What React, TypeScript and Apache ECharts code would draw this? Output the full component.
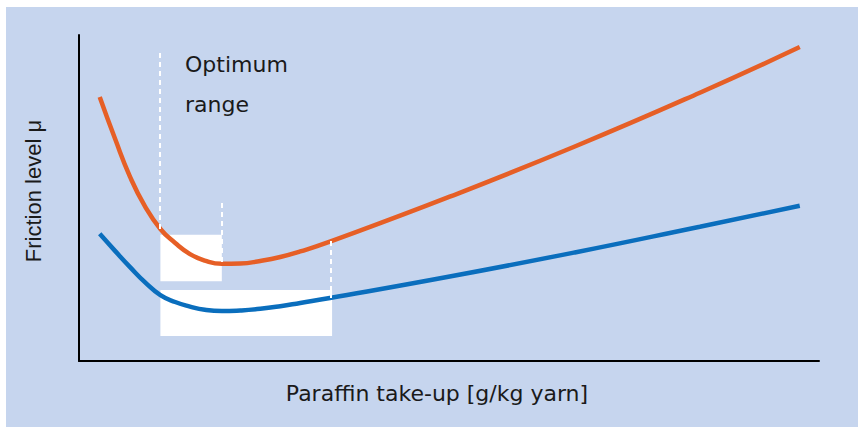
import React, { useEffect, useRef } from "react";
import * as echarts from "echarts";

// Paraffin take-up (relative units, 0-100 along the x axis)
const paraffin = [2.8, 4.9, 6.9, 8.9, 11.0, 13.0, 15.0, 17.0, 19.3, 21.8, 24.5, 27.2, 29.9, 33.9, 50.1, 67.0, 83.9, 97.4];
// Friction level (relative units) – orange curve (upper)
const frictionUpper = [81.0, 68.0, 56.5, 47.5, 40.5, 36.2, 32.8, 30.8, 29.8, 29.9, 30.7, 31.9, 33.6, 36.6, 50.4, 65.8, 82.3, 96.3];
// Friction level (relative units) – blue curve (lower)
const frictionLower = [39.0, 33.7, 28.8, 24.2, 20.2, 18.1, 16.7, 15.7, 15.3, 15.5, 16.0, 16.8, 17.8, 19.3, 25.9, 33.3, 41.2, 47.6];

// Optimum-range boxes: [xStart, yStart, xEnd, yEnd]
const optimumBoxes = [
  [11.0, 24.5, 19.3, 38.7],
  [11.0, 7.7, 34.2, 21.8],
];
// Dashed guide lines: [x, yFrom, yTo]
const guideLines = [
  [10.95, 94.5, 40.5],
  [19.3, 48.5, 29.8],
  [34.0, 36.8, 19.3],
];

const xTitle = "Paraffin take-up [g/kg yarn]";
const yTitle = "Friction level μ";
const noteLines = ["Optimum", "range"];

export default function App() {
  const ref = useRef<HTMLDivElement>(null);

  useEffect(() => {
    if (!ref.current) return;
    const chart = echarts.init(ref.current, undefined, { renderer: "svg" });
    const upper = paraffin.map((x, i) => [x, frictionUpper[i]]);
    const lower = paraffin.map((x, i) => [x, frictionLower[i]]);

    chart.setOption({
      animation: false,
      grid: { left: 79, top: 35, width: 740, height: 326, containLabel: false },
      xAxis: {
        type: "value",
        min: 0,
        max: 100,
        axisLine: { show: true, onZero: false, lineStyle: { color: "#000", width: 2 } },
        axisTick: { show: false },
        axisLabel: { show: false },
        splitLine: { show: false },
      },
      yAxis: {
        type: "value",
        min: 0,
        max: 100,
        axisLine: { show: true, onZero: false, lineStyle: { color: "#000", width: 2 } },
        axisTick: { show: false },
        axisLabel: { show: false },
        splitLine: { show: false },
      },
      graphic: [
        {
          type: "rect",
          z: -100,
          shape: { x: 6, y: 7, width: 852, height: 420 },
          style: { fill: "#c6d5ee" },
          silent: true,
        },
        {
          type: "text",
          x: 185,
          y: 64,
          style: {
            text: noteLines[0],
            font: "22px 'DejaVu Sans'",
            fill: "#1a1a1a",
            align: "left",
            verticalAlign: "middle",
          },
        },
        {
          type: "text",
          x: 185,
          y: 104,
          style: {
            text: noteLines[1],
            font: "22px 'DejaVu Sans'",
            fill: "#1a1a1a",
            align: "left",
            verticalAlign: "middle",
          },
        },
        {
          type: "text",
          x: 437,
          y: 393,
          style: {
            text: xTitle,
            font: "22px 'DejaVu Sans'",
            fill: "#1a1a1a",
            align: "center",
            verticalAlign: "middle",
          },
        },
        {
          type: "text",
          x: 33,
          y: 191,
          rotation: Math.PI / 2,
          style: {
            text: yTitle,
            font: "22px 'Liberation Sans'",
            fill: "#1a1a1a",
            align: "center",
            verticalAlign: "middle",
          },
        },
      ],
      series: [
        {
          type: "line",
          data: [[0, 0]],
          symbol: "none",
          lineStyle: { width: 0, opacity: 0 },
          silent: true,
          markArea: {
            silent: true,
            itemStyle: { color: "#ffffff", opacity: 1 },
            label: { show: false },
            data: optimumBoxes.map((b) => [{ coord: [b[0], b[1]] }, { coord: [b[2], b[3]] }]),
          },
          markLine: {
            silent: true,
            symbol: ["none", "none"],
            label: { show: false },
            lineStyle: { color: "#ffffff", width: 2, type: [5, 4] },
            data: guideLines.map((g) => [{ coord: [g[0], g[1]] }, { coord: [g[0], g[2]] }]),
          },
        },
        {
          type: "line",
          data: lower,
          smooth: 0.5,
          symbol: "none",
          lineStyle: { color: "#0a6ebd", width: 4.5, cap: "butt" },
        },
        {
          type: "line",
          data: upper,
          smooth: 0.5,
          symbol: "none",
          lineStyle: { color: "#e65f26", width: 4.5, cap: "butt" },
        },
      ],
    });
    return () => chart.dispose();
  }, []);

  return (
    <div
      ref={ref}
      style={{ position: "absolute", left: 0, top: 0, width: 858, height: 427, background: "#ffffff" }}
    />
  );
}
